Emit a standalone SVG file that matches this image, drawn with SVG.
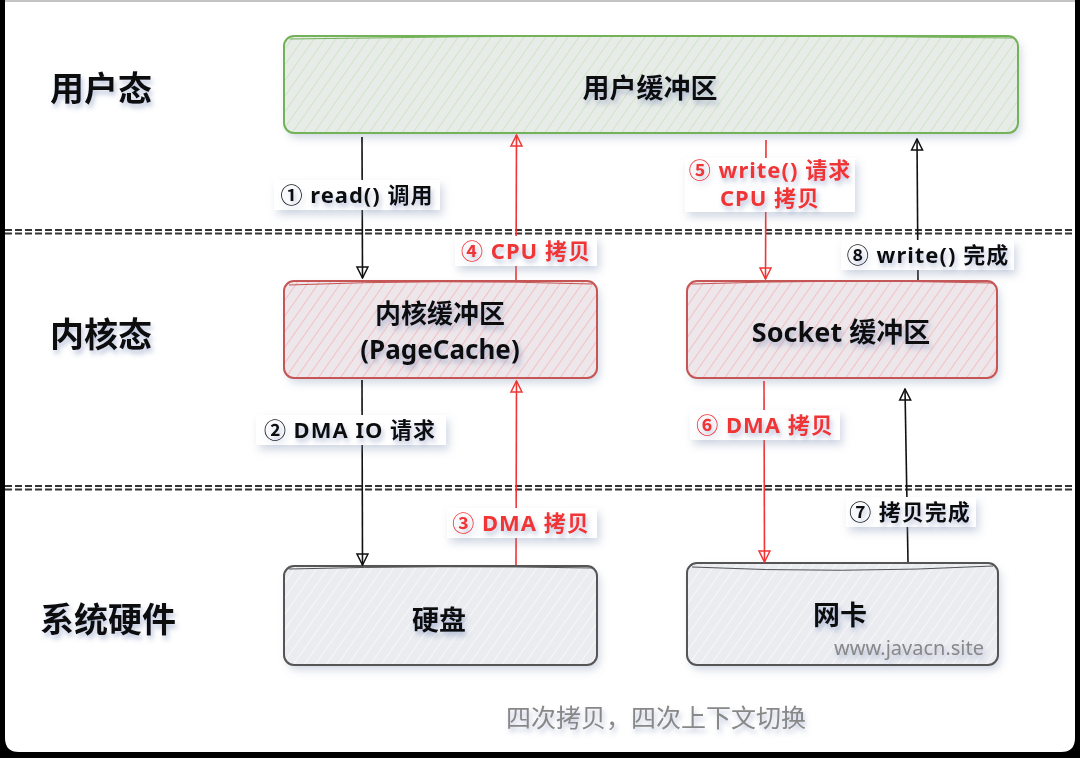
<svg xmlns="http://www.w3.org/2000/svg" width="1080" height="758" viewBox="0 0 1080 758">
<defs>
<style>
.lane{font-family:"Noto Sans CJK SC","Noto Sans",sans-serif;font-weight:700;font-size:34px;fill:#111;}
.node{font-family:"Noto Sans","Noto Sans CJK SC",sans-serif;font-weight:700;font-size:27px;fill:#111;text-anchor:middle;}
.sm{font-size:26px;}
.lbl{font-family:"Noto Sans","Noto Sans CJK SC",sans-serif;font-weight:700;font-size:22px;letter-spacing:1px;text-anchor:middle;}
.blk{fill:#111;}
.red{fill:#f03535;}
.cap{font-family:"Noto Sans CJK SC",sans-serif;font-size:25px;fill:#888;text-anchor:middle;}
.wm{font-family:"Noto Sans",sans-serif;font-size:20px;fill:#888;text-anchor:end;}
.lb{fill:#fff;}
.dash{stroke:#333;stroke-width:1.8;stroke-dasharray:7 3;fill:none;}
.cb{stroke:#111;stroke-width:1.6;fill:none;}
.cr{stroke:#f03535;stroke-width:1.6;fill:none;}
</style>
<filter id="ts" x="-10%" y="-30%" width="130%" height="180%">
<feDropShadow dx="2" dy="4" stdDeviation="2.5" flood-color="#7080b0" flood-opacity="0.45"/>
</filter>
<filter id="bs" x="-5%" y="-10%" width="112%" height="130%">
<feDropShadow dx="3" dy="5" stdDeviation="4" flood-color="#8090b0" flood-opacity="0.35"/>
</filter>
<pattern id="hg" patternUnits="userSpaceOnUse" width="9" height="9" patternTransform="rotate(35)">
<rect width="9" height="9" fill="#e8ece8"/>
<line x1="0" y1="0" x2="0" y2="9" stroke="#c9e2bf" stroke-width="1.6"/>
</pattern>
<pattern id="hr" patternUnits="userSpaceOnUse" width="9" height="9" patternTransform="rotate(35)">
<rect width="9" height="9" fill="#ede6ea"/>
<line x1="0" y1="0" x2="0" y2="9" stroke="#f4b8b8" stroke-width="1.6"/>
</pattern>
<pattern id="hk" patternUnits="userSpaceOnUse" width="9" height="9" patternTransform="rotate(35)">
<rect width="9" height="9" fill="#eaecf0"/>
<line x1="0" y1="0" x2="0" y2="9" stroke="#fafbfc" stroke-width="1.6"/>
</pattern>
<marker id="ab" viewBox="0 0 14 14" refX="13" refY="7" markerWidth="14" markerHeight="14" markerUnits="userSpaceOnUse" orient="auto">
<path d="M2,1.5 L13,7 L2,12.5 Z" fill="none" stroke="#111" stroke-width="1.5"/>
</marker>
<marker id="ar" viewBox="0 0 14 14" refX="13" refY="7" markerWidth="14" markerHeight="14" markerUnits="userSpaceOnUse" orient="auto">
<path d="M2,1.5 L13,7 L2,12.5 Z" fill="none" stroke="#f03535" stroke-width="1.5"/>
</marker>
</defs>
<rect x="0" y="0" width="1080" height="758" fill="#000"/>
<path d="M5,0 H1075 V738 Q1075,752 1061,752 H19 Q5,752 5,738 Z" fill="#fff"/>
<line x1="5" y1="1" x2="1075" y2="1" stroke="#888" stroke-width="1"/>

<g id="lanes">
<text class="lane" x="50" y="101" filter="url(#ts)">用户态</text>
<text class="lane" x="50" y="347" filter="url(#ts)">内核态</text>
<text class="lane" x="40" y="632" filter="url(#ts)">系统硬件</text>
<line class="dash" x1="5" y1="230" x2="1075" y2="230"/>
<line class="dash" x1="5" y1="233.5" x2="1075" y2="233.5"/>
<line class="dash" x1="5" y1="486" x2="1075" y2="486"/>
<line class="dash" x1="5" y1="489.5" x2="1075" y2="489.5"/>
</g>

<g id="user-buffer">
<rect x="284" y="36" width="734" height="97" rx="10" fill="url(#hg)" filter="url(#bs)"/>
<rect x="284" y="36" width="734" height="97" rx="10" fill="none" stroke="#74b25a" stroke-width="2"/>
<path d="M290,39 Q650,33 1012,38" fill="none" stroke="#74b25a" stroke-width="1"/>
<text class="node" x="650" y="98" filter="url(#ts)">用户缓冲区</text>
</g>

<g id="kernel-buffer">
<rect x="284" y="281" width="313" height="97" rx="10" fill="url(#hr)" filter="url(#bs)"/>
<rect x="284" y="281" width="313" height="97" rx="10" fill="none" stroke="#c65555" stroke-width="2"/>
<path d="M289,285 Q440,279 592,284" fill="none" stroke="#c65555" stroke-width="1"/>
<text class="node sm" x="440" y="323" filter="url(#ts)">内核缓冲区</text>
<text class="node sm" x="440" y="359" filter="url(#ts)">(PageCache)</text>
</g>

<g id="socket-buffer">
<rect x="687" y="281" width="310" height="97" rx="10" fill="url(#hr)" filter="url(#bs)"/>
<rect x="687" y="281" width="310" height="97" rx="10" fill="none" stroke="#c65555" stroke-width="2"/>
<path d="M692,284 Q840,279 992,283" fill="none" stroke="#c65555" stroke-width="1"/>
<text class="node" x="841" y="342" filter="url(#ts)">Socket 缓冲区</text>
</g>

<g id="disk">
<rect x="284" y="566" width="313" height="99" rx="10" fill="url(#hk)" filter="url(#bs)"/>
<rect x="284" y="566" width="313" height="99" rx="10" fill="none" stroke="#555" stroke-width="2"/>
<path d="M289,569 Q440,565 592,568" fill="none" stroke="#555" stroke-width="1"/>
<text class="node" x="439" y="630" filter="url(#ts)">硬盘</text>
</g>

<g id="nic">
<rect x="687" y="563" width="311" height="102" rx="10" fill="url(#hk)" filter="url(#bs)"/>
<rect x="687" y="563" width="311" height="102" rx="10" fill="none" stroke="#555" stroke-width="2"/>
<path d="M692,567 Q840,574 993,566" fill="none" stroke="#555" stroke-width="1"/>
<text class="node" x="840" y="625" filter="url(#ts)">网卡</text>
<text class="wm" x="984" y="655" filter="url(#ts)">www.javacn.site</text>
</g>

<g id="connectors">
<path class="cb" d="M362,137 L362.5,278" marker-end="url(#ab)"/>
<path class="cb" d="M362,380 L362.5,565" marker-end="url(#ab)"/>
<path class="cr" d="M516,565 L516.5,381" marker-end="url(#ar)"/>
<path class="cr" d="M516,280 L516.5,135" marker-end="url(#ar)"/>
<path class="cr" d="M766,140 L765.5,279" marker-end="url(#ar)"/>
<path class="cr" d="M764,381 L764.5,562" marker-end="url(#ar)"/>
<path class="cb" d="M908,562 L905,389" marker-end="url(#ab)"/>
<path class="cb" d="M918,280 L917,139" marker-end="url(#ab)"/>

<g filter="url(#bs)">
<rect class="lb" x="274" y="180" width="166" height="30"/>
<rect class="lb" x="256" y="415" width="190" height="30"/>
<rect class="lb" x="447" y="508" width="150" height="30"/>
<rect class="lb" x="455" y="236" width="142" height="30"/>
<rect class="lb" x="685" y="158" width="170" height="54"/>
<rect class="lb" x="690" y="410" width="150" height="30"/>
<rect class="lb" x="846" y="497" width="130" height="30"/>
<rect class="lb" x="841" y="240" width="173" height="30"/>
</g>
<text class="lbl blk" x="357" y="203" filter="url(#ts)">① read() 调用</text>
<text class="lbl blk" x="350" y="438" filter="url(#ts)">② DMA IO 请求</text>
<text class="lbl red" x="521" y="531" filter="url(#ts)">③ DMA 拷贝</text>
<text class="lbl red" x="526" y="259" filter="url(#ts)">④ CPU 拷贝</text>
<text class="lbl red" x="770" y="178" filter="url(#ts)">⑤ write() 请求</text>
<text class="lbl red" x="770" y="206" filter="url(#ts)">CPU 拷贝</text>
<text class="lbl red" x="765" y="433" filter="url(#ts)">⑥ DMA 拷贝</text>
<text class="lbl blk" x="910" y="520" filter="url(#ts)">⑦ 拷贝完成</text>
<text class="lbl blk" x="928" y="263" filter="url(#ts)">⑧ write() 完成</text>
</g>

<text class="cap" x="656" y="727" filter="url(#ts)">四次拷贝，四次上下文切换</text>
</svg>
